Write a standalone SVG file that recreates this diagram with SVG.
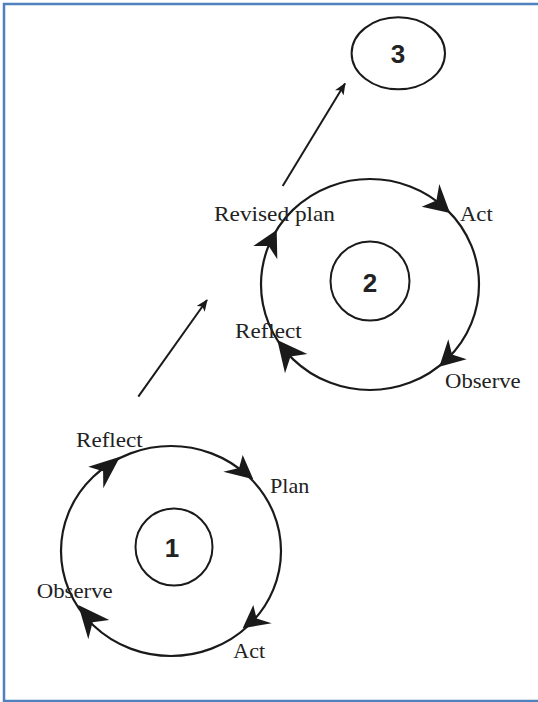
<svg xmlns="http://www.w3.org/2000/svg" width="538" height="702" viewBox="0 0 538 702">
<defs>
<style>
.cyc{fill:none;stroke:#1a1a1a;stroke-width:2.2}
.inner{fill:#fff;stroke:#1a1a1a;stroke-width:2}
.head{fill:#1a1a1a;stroke:none}
.lbl{font-family:"Liberation Serif","Times New Roman",serif;font-size:22px;fill:#222}
.num{font-family:"Liberation Sans",Arial,sans-serif;font-size:26px;font-weight:bold;fill:#222;text-anchor:middle}
.link{stroke:#1a1a1a;stroke-width:2;fill:none}
</style>
<marker id="ah" viewBox="0 0 12 10" refX="11" refY="5" markerWidth="12" markerHeight="10" markerUnits="userSpaceOnUse" orient="auto">
<path d="M0,0 L12,5 L0,10 L3,5 Z" fill="#1a1a1a"/>
</marker>
</defs>
<rect width="538" height="702" fill="#fff"/>
<rect x="4" y="4" width="545" height="697" fill="none" stroke="#4f81bd" stroke-width="2.5"/>

<g id="connectors">
<line class="link" x1="138.3" y1="396.7" x2="207" y2="300" marker-end="url(#ah)"/>
<line class="link" x1="282.7" y1="186" x2="345" y2="83.5" marker-end="url(#ah)"/>
</g>

<g id="cycle1">
<ellipse class="cyc" cx="171" cy="551" rx="110" ry="105"/>
<polygon class="head" points="253.3,479.3 223.3,471.7 239.1,468.1 242.7,455"/>
<polygon class="head" points="242.7,628.3 271.7,623.3 256.6,618.4 253.3,605"/>
<polygon class="head" points="78.3,605 109.3,620 92.6,622.3 88.3,639.3"/>
<polygon class="head" points="120,456.7 88.3,466.7 103.1,471.3 103.3,488.3"/>
<text class="lbl" x="76" y="447.3" textLength="66.7" lengthAdjust="spacingAndGlyphs">Reflect</text>
<text class="lbl" x="270" y="493.3" textLength="39.3" lengthAdjust="spacingAndGlyphs">Plan</text>
<text class="lbl" x="36.7" y="598.3" textLength="76" lengthAdjust="spacingAndGlyphs">Observe</text>
<text class="lbl" x="233.3" y="658.3" textLength="31.7" lengthAdjust="spacingAndGlyphs">Act</text>
</g>

<g id="node1">
<circle class="inner" cx="174" cy="547" r="38.5"/>
<text class="num" x="172" y="557">1</text>
</g>

<g id="cycle2">
<ellipse class="cyc" cx="370" cy="284.5" rx="109" ry="105.5"/>
<polygon class="head" points="450,213 421.7,206.7 436.4,200.6 439.3,184"/>
<polygon class="head" points="439.3,366.7 466.7,359.3 452,354.5 448.3,339.3"/>
<polygon class="head" points="277.3,340 307.3,354 290.5,356.6 285,373.3"/>
<polygon class="head" points="276.7,230 253.3,246 268.7,245.9 277.3,259.3"/>
<text class="lbl" x="214" y="221" textLength="121" lengthAdjust="spacingAndGlyphs">Revised plan</text>
<text class="lbl" x="460" y="221" textLength="32.7" lengthAdjust="spacingAndGlyphs">Act</text>
<text class="lbl" x="235" y="338.3" textLength="66.7" lengthAdjust="spacingAndGlyphs">Reflect</text>
<text class="lbl" x="445" y="388.3" textLength="75.7" lengthAdjust="spacingAndGlyphs">Observe</text>
</g>

<g id="node2">
<circle class="inner" cx="370" cy="281" r="39.5"/>
<text class="num" x="370" y="291.5">2</text>
</g>

<g id="node3">
<ellipse class="inner" cx="398.3" cy="53.3" rx="46.7" ry="36"/>
<text class="num" x="398" y="63.3">3</text>
</g>
</svg>
